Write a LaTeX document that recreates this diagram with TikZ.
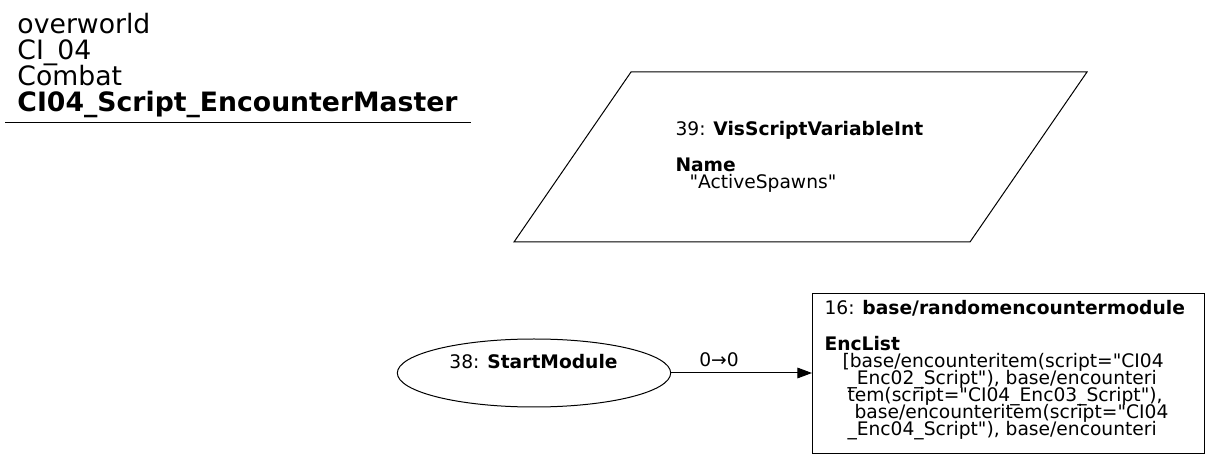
\documentclass[tikz,border=0pt]{standalone}
\usepackage{fontspec}
\setmainfont{DejaVu Sans}[Ligatures=TeXOff]
\usetikzlibrary{shapes.geometric,arrows.meta}
\newcommand\tightlines{\lineskiplimit-30pt\relax}
\tikzset{
  hdrtext/.style={inner sep=0pt, align=left, anchor=north west, font=\fontsize{20}{19.5}\selectfont\tightlines},
  bodytext/.style={inner sep=0pt, align=left, anchor=north west, font=\fontsize{14}{12.75}\selectfont\tightlines},
  edgetext/.style={inner sep=0pt, font=\fontsize{14}{12.75}\selectfont},
  startnode/.style={draw, ellipse, inner sep=0pt, minimum width=205pt, minimum height=51pt},
  modnode/.style={draw, rectangle, inner sep=0pt, anchor=north west, minimum width=294pt, minimum height=120pt},
  flow/.style={-{Triangle[length=11pt,width=8pt]}},
}
\begin{document}
\begin{tikzpicture}[x=0.75pt,y=-0.75pt,line width=0.75pt]
    \useasboundingbox (0,0) rectangle (1211,459);
    % header
    \node[hdrtext] (hdr) at (17,13) {overworld\\CI\_04\\Combat\\\textbf{CI04\_Script\_EncounterMaster}};
    \draw (5,123) -- (471,123);
    % variable
    \draw (631,72) -- (1087,72) -- (970,242) -- (514,242) -- cycle;
    \node[bodytext] (var) at (675,121) {39: \textbf{VisScriptVariableInt}\\[14.25pt]\textbf{Name}\\\hspace*{10.5pt}"ActiveSpawns"};
    % start and module
    \node[startnode] (start) at (534,373) {};
    \node[edgetext] (startlbl) at (533.5,362) {38: \textbf{StartModule}};
    \node[modnode] (enc) at (812,293) {};
    \node[bodytext] (enclbl) at (824,299.5) {16: \textbf{base/randomencountermodule}\\[14.25pt]\textbf{EncList}\\
      \hspace*{13.5pt}[base/encounteritem(script="CI04\\
      \hspace*{17.25pt}\_Enc02\_Script"), base/encounteri\\
      \hspace*{17.25pt}tem(script="CI04\_Enc03\_Script"),\\
      \hspace*{22.5pt}base/encounteritem(script="CI04\\
      \hspace*{17.25pt}\_Enc04\_Script"), base/encounteri};
    \draw[flow] (start.east) -- (start.east -| enc.west) node[edgetext, pos=0.34, above=4pt] (flowlbl) {0→0};
\end{tikzpicture}
\end{document}
